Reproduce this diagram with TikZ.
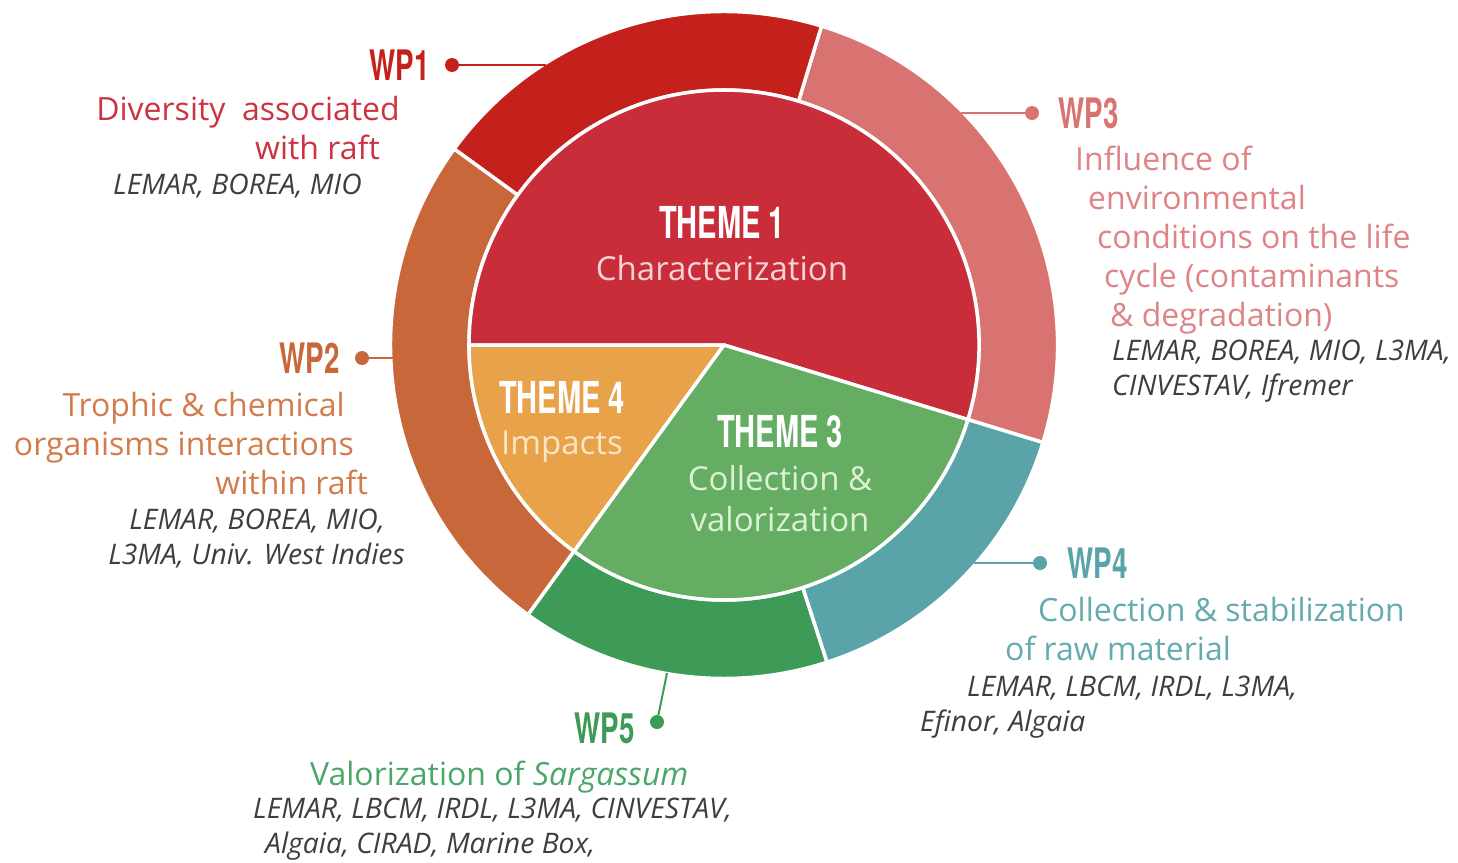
\documentclass[tikz,border=0pt]{standalone}
\usepackage{fontspec}
\setmainfont{Open Sans}
\newfontfamily\wpfont[FakeStretch=0.66]{TeX Gyre Heros}
\usepackage{tikz}
\usetikzlibrary{positioning}

\definecolor{wpone}{HTML}{C4211C}
\definecolor{wptwo}{HTML}{C8683A}
\definecolor{wpthree}{HTML}{D97371}
\definecolor{wpfour}{HTML}{5AA3A8}
\definecolor{wpfive}{HTML}{3D9A57}
\definecolor{themeone}{HTML}{C92D3A}
\definecolor{themethree}{HTML}{65AD63}
\definecolor{themefour}{HTML}{E7A24A}
\definecolor{subone}{HTML}{F6D3D5}
\definecolor{subthree}{HTML}{DDF2D5}
\definecolor{subfour}{HTML}{FAE6C6}
\definecolor{txtone}{HTML}{CC3340}
\definecolor{txttwo}{HTML}{D27B4B}
\definecolor{txtthree}{HTML}{DF8486}
\definecolor{txtfour}{HTML}{63ABAE}
\definecolor{txtfive}{HTML}{4BA66A}
\definecolor{partner}{HTML}{3E3E3E}

\tikzstyle{every node}+=[inner sep=0pt]
\tikzstyle{seg} = [draw=white, line width=3.5pt, line join=round]
\tikzstyle{dot} = [circle, minimum size=14pt]
\tikzstyle{tie} = [draw, line width=2pt]
\tikzstyle{wplabel} = [font=\wpfont\bfseries\fontsize{42}{42}\selectfont]
\tikzstyle{themetitle} = [white, font=\wpfont\bfseries\fontsize{44}{44}\selectfont]
\tikzstyle{themesub} = [font=\fontsize{33}{41}\selectfont]
\tikzstyle{desc} = [font=\fontsize{32}{39}\selectfont]
\tikzstyle{partners} = [text=partner, font=\itshape\fontsize{28.3}{35}\selectfont]

\begin{document}
\begin{tikzpicture}[x=1pt, y=-1pt]
            \useasboundingbox (0,0) rectangle (1458,862);
            % Wheel
            \coordinate (c) at (724,345);
            \begin{scope}[shift={(c)}, yscale=-1]
            % outer ring
            \path [seg, fill=wpthree] (-17:333.5) arc[start angle=-17, end angle=73, radius=333.5] -- (73:255) arc[start angle=73, end angle=-17, radius=255] -- cycle;
            \path [seg, fill=wpone] (73:333.5) arc[start angle=73, end angle=144, radius=333.5] -- (144:255) arc[start angle=144, end angle=73, radius=255] -- cycle;
            \path [seg, fill=wptwo] (144:333.5) arc[start angle=144, end angle=234, radius=333.5] -- (234:255) arc[start angle=234, end angle=144, radius=255] -- cycle;
            \path [seg, fill=wpfive] (234:333.5) arc[start angle=234, end angle=288, radius=333.5] -- (288:255) arc[start angle=288, end angle=234, radius=255] -- cycle;
            \path [seg, fill=wpfour] (288:333.5) arc[start angle=288, end angle=343, radius=333.5] -- (343:255) arc[start angle=343, end angle=288, radius=255] -- cycle;
            % inner pie
            \path [seg, fill=themeone] (0,0) -- (-17:255) arc[start angle=-17, end angle=180, radius=255] -- cycle;
            \path [seg, fill=themefour] (0,0) -- (180:255) arc[start angle=180, end angle=234, radius=255] -- cycle;
            \path [seg, fill=themethree] (0,0) -- (234:255) arc[start angle=234, end angle=343, radius=255] -- cycle;
            \end{scope}
            % Themes
            \node [themetitle] (t1) at (722,222) {THEME 1};
            \node [themesub, text=subone, below=17pt of t1] (s1) {Characterization};
            \node [themetitle] (t4) at (562,397) {THEME 4};
            \node [themesub, text=subfour, below=17pt of t4] (s4) {Impacts};
            \node [themetitle] (t3) at (780,432) {THEME 3};
            \node [themesub, text=subthree, below=17pt of t3, align=center] (s3) {Collection \&\\valorization};
            % WP1
            \node [dot, fill=wpone] (d1) at (452,65) {};
            \node [wplabel, text=wpone, left=15pt of d1] (wp1) {WP1};
            \coordinate (r1) at (546,65);
            \node [desc, text=txtone, align=right, anchor=north east] (x1) at (400,96) {Diversity\ \ associated\\with raft\hbox to 20pt{}};
            \node [partners, anchor=north west] (p1) at (113,174) {LEMAR, BOREA, MIO};
            % WP2
            \node [dot, fill=wptwo] (d2) at (362,358) {};
            \node [wplabel, text=wptwo, left=15pt of d2] (wp2) {WP2};
            \coordinate (r2) at (393,358);
            \node [desc, text=txttwo, align=right, anchor=north east] (x2) at (368,392) {Trophic \& chemical\hbox to 23pt{}\\organisms interactions\hbox to 14pt{}\\within raft};
            \node [partners, align=right, anchor=north east] (p2) at (405,509) {LEMAR, BOREA, MIO,\hbox to 20pt{}\\L3MA, Univ. West Indies};
            % WP3
            \node [dot, fill=wpthree] (d3) at (1032,113) {};
            \node [wplabel, text=wpthree, right=19pt of d3] (wp3) {WP3};
            \coordinate (r3) at (961,113);
            \node [desc, text=txtthree, align=left, anchor=north west] (x3) at (1075,146) {Influence of\\\hspace*{13pt}environmental\\\hspace*{22pt}conditions on the life\\\hspace*{29pt}cycle (contaminants\\\hspace*{35pt}\& degradation)};
            \node [partners, align=left, anchor=north west] (p3) at (1112,340) {LEMAR, BOREA, MIO, L3MA,\\CINVESTAV, Ifremer};
            % WP4
            \node [dot, fill=wpfour] (d4) at (1040,563) {};
            \node [wplabel, text=wpfour, right=20pt of d4] (wp4) {WP4};
            \coordinate (r4) at (974,563);
            \node [desc, text=txtfour, align=left, anchor=north west] (x4) at (1005,597) {\hspace*{33pt}Collection \& stabilization\\of raw material};
            \node [partners, align=left, anchor=north west] (p4) at (920,676) {\hspace*{47pt}LEMAR, LBCM, IRDL, L3MA,\\Efinor, Algaia};
            % WP5
            \node [dot, fill=wpfive] (d5) at (657,722) {};
            \node [wplabel, text=wpfive, left=15pt of d5, yshift=-6pt] (wp5) {WP5};
            \coordinate (r5) at (667,673);
            \node [desc, text=txtfive, anchor=north west] (x5) at (310,761) {Valorization of \textit{Sargassum}};
            \node [partners, align=left, anchor=north west] (p5) at (253,798) {LEMAR, LBCM, IRDL, L3MA, CINVESTAV,\\\hspace*{12pt}Algaia, CIRAD, Marine Box,};
            % Draw ties
            \path [tie, wpone] (d1) -- (r1);
            \path [tie, wptwo] (d2) -- (r2);
            \path [tie, wpthree] (d3) -- (r3);
            \path [tie, wpfour] (d4) -- (r4);
            \path [tie, wpfive] (d5) -- (r5);
\end{tikzpicture}
\end{document}
